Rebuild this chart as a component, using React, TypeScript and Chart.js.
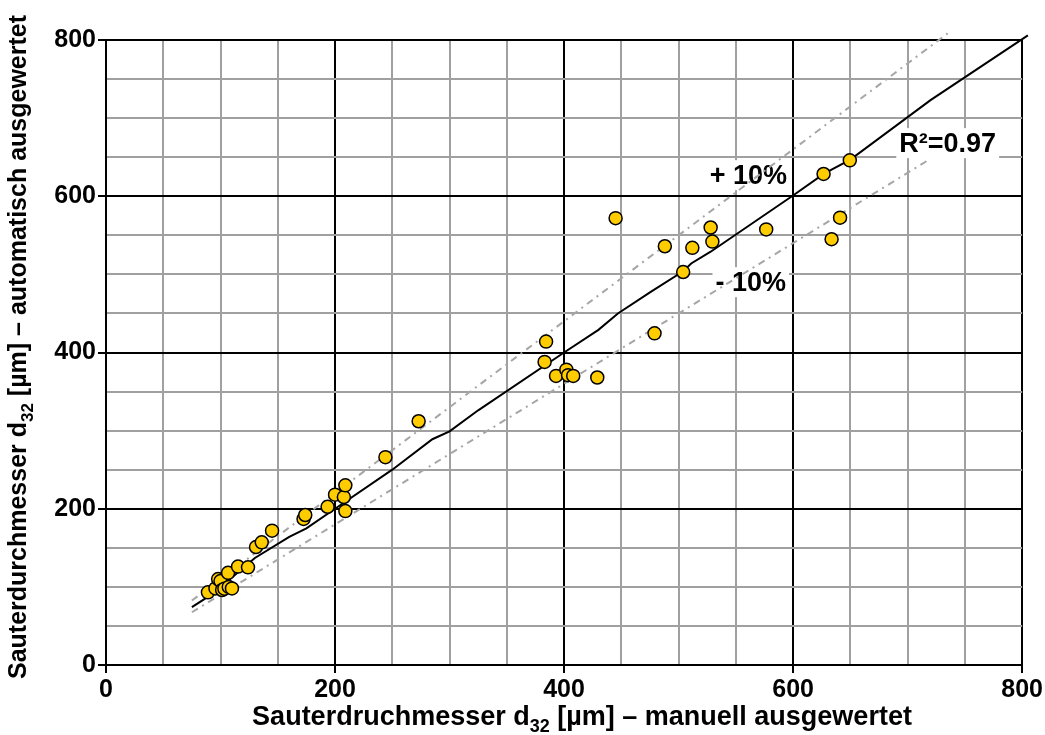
import React, { useEffect, useRef } from 'react';
import { Chart, registerables } from 'chart.js';

Chart.register(...registerables);

// Measured points: manual (x) vs automatic (y) Sauter diameter in µm
const manualX = [89, 95.6, 97.9, 100, 101.4, 103.4, 106.6, 107.2, 110, 115.3, 124, 131, 136, 145, 172.5, 174, 193.5, 200, 207.7, 209, 209, 244, 273, 384.3, 383, 393, 402, 403.5, 408, 429, 445, 488, 512, 528, 529.5, 504, 479, 576.5, 626.6, 649.5, 641, 633.6];
const autoY = [93, 98, 110, 107.5, 96, 97.7, 118, 100, 98, 126, 125, 151, 157, 172, 187, 192, 202.5, 218, 215, 230, 197, 266, 312, 414, 388, 370, 378, 371, 370, 368, 572, 536, 534, 560, 542, 503, 424.5, 557.6, 628.5, 646, 572.6, 545];

// Trend line vertices
const fitX = [75, 93, 130, 160, 175, 200, 250, 285, 300, 325, 400, 430, 447, 476, 504, 511, 528, 599, 627, 650, 720, 805];
const fitY = [74, 91, 137, 164, 175, 200, 250, 289, 299, 326, 400, 429, 450, 478, 504, 514, 529, 600, 629, 647, 723, 806];

// +/- 10 % band lines
const plusX = [75, 735];
const plusY = [82.5, 808.5];
const minusX = [75, 720];
const minusY = [67.5, 648];

const axisMin = 0;
const axisMax = 800;
const gridStep = 50;
const majorStep = 200;

const xTitle = [
  { text: 'Sauterdruchmesser d' },
  { text: '32', sub: true },
  { text: ' [µm] – manuell ausgewertet' },
];
const yTitle = [
  { text: 'Sauterdurchmesser d' },
  { text: '32', sub: true },
  { text: ' [µm] – automatisch ausgewertet' },
];

const annotations = [
  { text: '+ 10%', x: 561, y: 627 },
  { text: '- 10%', x: 563, y: 490 },
  { text: 'R²=0.97', x: 735, y: 668 },
];

const FONT = '"Liberation Sans", Arial, sans-serif';

function toPts(xs: number[], ys: number[]) {
  return xs.map((x, i) => ({ x, y: ys[i] }));
}

function drawRich(ctx: CanvasRenderingContext2D, segs: { text: string; sub?: boolean }[], size: number) {
  const mainF = `bold ${size}px ${FONT}`;
  const subF = `bold ${Math.round(size * 0.66)}px ${FONT}`;
  let w = 0;
  for (const s of segs) {
    ctx.font = s.sub ? subF : mainF;
    w += ctx.measureText(s.text).width;
  }
  let x = -w / 2;
  for (const s of segs) {
    ctx.font = s.sub ? subF : mainF;
    ctx.fillText(s.text, x, s.sub ? size * 0.26 : 0);
    x += ctx.measureText(s.text).width;
  }
}

const decorPlugin = {
  id: 'decor',
  beforeDatasetsDraw(chart: any) {
    const ctx = chart.ctx as CanvasRenderingContext2D;
    const xs = chart.scales.x;
    const ys = chart.scales.y;
    ctx.save();
    ctx.font = `bold 27px ${FONT}`;
    ctx.textAlign = 'center';
    ctx.textBaseline = 'middle';
    for (const a of annotations) {
      const px = xs.getPixelForValue(a.x);
      const py = ys.getPixelForValue(a.y);
      const w = ctx.measureText(a.text).width;
      ctx.fillStyle = '#fff';
      ctx.fillRect(px - w / 2 - 3, py - 15, w + 6, 30);
      ctx.fillStyle = '#000';
      ctx.fillText(a.text, px, py + 1);
    }
    ctx.restore();
  },
  afterDraw(chart: any) {
    const ctx = chart.ctx as CanvasRenderingContext2D;
    ctx.save();
    ctx.fillStyle = '#000';
    ctx.textBaseline = 'alphabetic';
    ctx.textAlign = 'left';
    ctx.save();
    ctx.translate(582, 725);
    drawRich(ctx, xTitle, 27);
    ctx.restore();
    ctx.save();
    ctx.translate(26, 347);
    ctx.rotate(-Math.PI / 2);
    drawRich(ctx, yTitle, 25);
    ctx.restore();
    ctx.restore();
  },
};

function isMajor(v: number) {
  return Math.abs(v % majorStep) < 1e-6;
}

function axisOpts(isX: boolean) {
  return {
    type: 'linear' as const,
    min: axisMin,
    max: axisMax,
    afterFit(scale: any) {
      if (isX) scale.height = 70;
      else scale.width = 106;
    },
    ticks: {
      stepSize: gridStep,
      autoSkip: false,
      maxRotation: 0,
      padding: 2,
      color: '#000',
      font: { family: FONT, size: 25, weight: 'bold' as const },
      callback: (v: any) => (isMajor(Number(v)) ? String(v) : ''),
    },
    grid: {
      color: (c: any) => (c.tick && isMajor(c.tick.value) ? '#000' : '#a0a0a0'),
      tickColor: (c: any) => (c.tick && isMajor(c.tick.value) ? '#000' : 'rgba(0,0,0,0)'),
      lineWidth: 2,
      tickLength: 8,
      tickWidth: 2,
    },
    border: { display: true, color: '#000', width: 2 },
  };
}

export default function App() {
  const ref = useRef<HTMLCanvasElement>(null);
  useEffect(() => {
    document.body.style.margin = '0';
    const chart = new Chart(ref.current!, {
      type: 'scatter',
      data: {
        datasets: [
          {
            label: 'Messwerte',
            data: toPts(manualX, autoY),
            pointRadius: 6.5,
            pointBackgroundColor: '#FFCC00',
            pointBorderColor: '#000',
            pointBorderWidth: 1.5,
            showLine: false,
          },
          {
            label: 'Trend',
            data: toPts(fitX, fitY),
            showLine: true,
            borderColor: '#000',
            borderWidth: 2,
            pointRadius: 0,
            clip: false,
          } as any,
          {
            label: '+10%',
            data: toPts(plusX, plusY),
            showLine: true,
            borderColor: '#a6a6a6',
            borderWidth: 2,
            borderDash: [7, 5, 2, 5],
            pointRadius: 0,
            clip: false,
          } as any,
          {
            label: '-10%',
            data: toPts(minusX, minusY),
            showLine: true,
            borderColor: '#a6a6a6',
            borderWidth: 2,
            borderDash: [7, 5, 2, 5],
            pointRadius: 0,
          },
        ],
      },
      options: {
        animation: false,
        responsive: false,
        maintainAspectRatio: false,
        layout: { padding: { top: 40, right: 20, left: 0, bottom: 0 } },
        plugins: { legend: { display: false }, tooltip: { enabled: false } },
        scales: { x: axisOpts(true), y: axisOpts(false) } as any,
      },
      plugins: [decorPlugin],
    });
    return () => chart.destroy();
  }, []);
  return (
    <div style={{ width: 1045, height: 735 }}>
      <canvas ref={ref} width={1045} height={735} style={{ display: 'block' }} />
    </div>
  );
}
